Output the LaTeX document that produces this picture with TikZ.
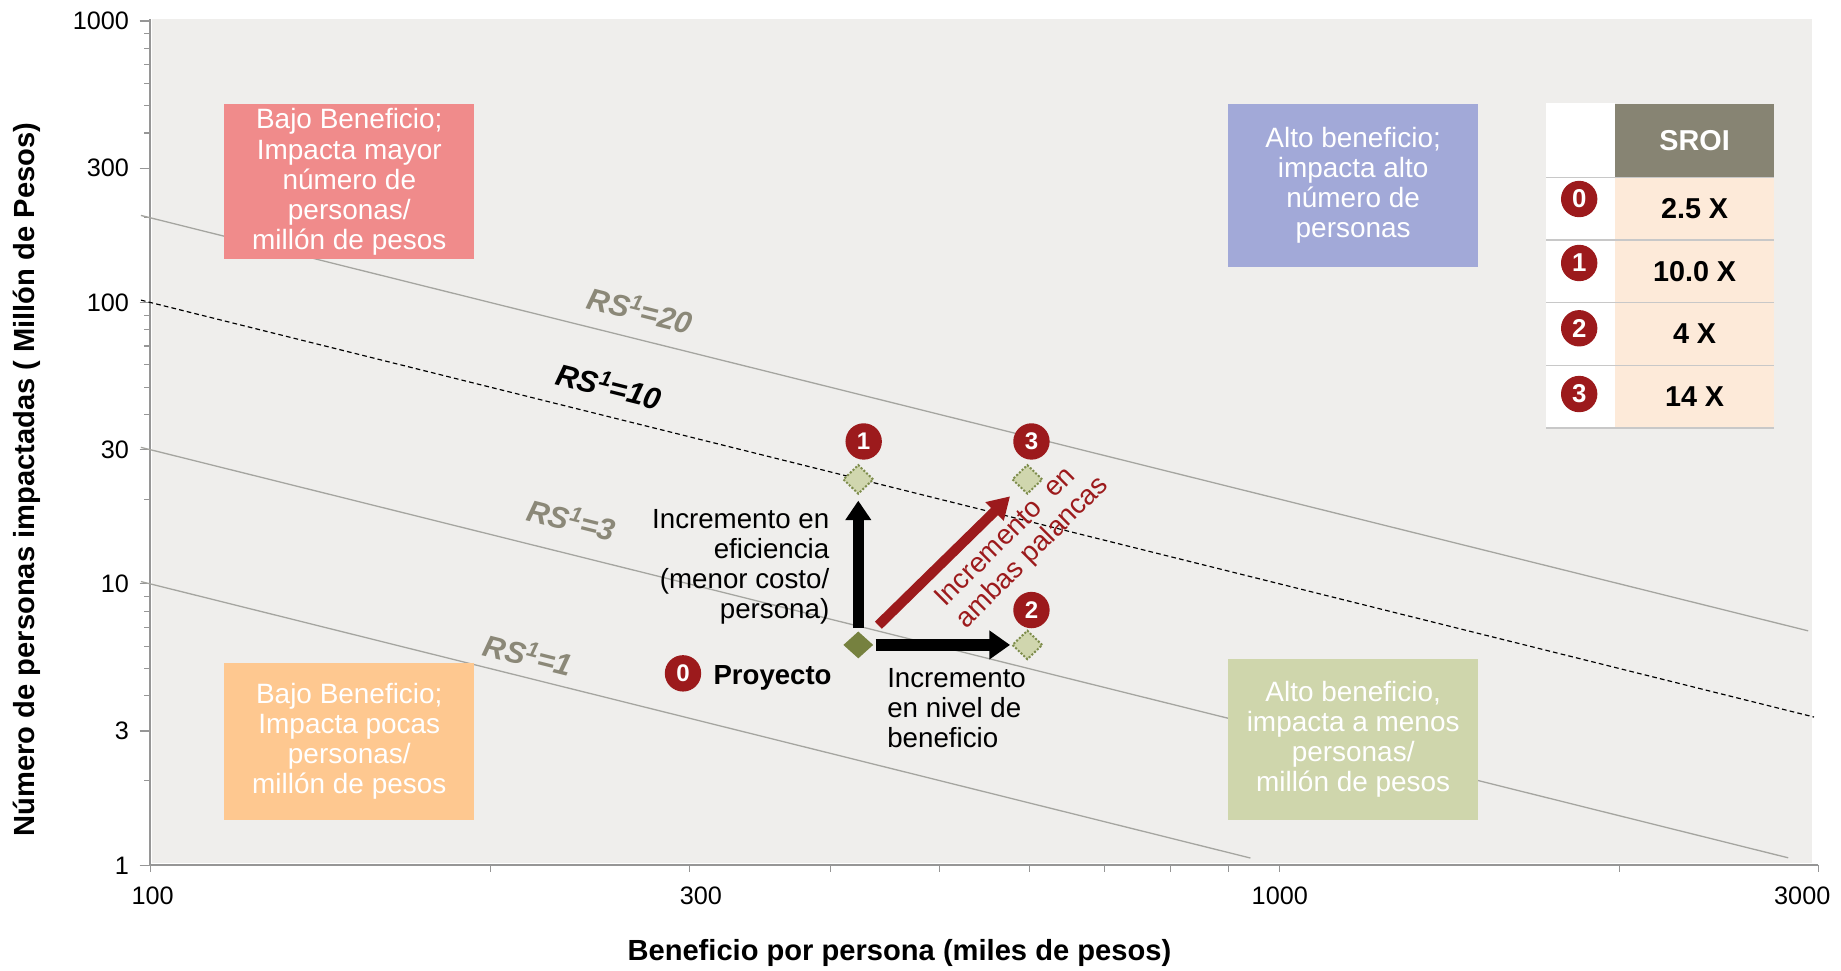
\documentclass[tikz,border=0pt]{standalone}
\usepackage{fontspec}
\setmainfont{Liberation Sans}
\usetikzlibrary{shapes.geometric,arrows.meta}
\definecolor{bggray}{RGB}{239,238,236}
\definecolor{axgray}{RGB}{150,150,150}
\definecolor{lngray}{RGB}{165,165,160}
\definecolor{rsgray}{RGB}{139,136,120}
\definecolor{dred}{RGB}{156,26,28}
\definecolor{olivept}{RGB}{118,129,63}
\definecolor{lgreen}{RGB}{208,214,174}
\definecolor{dotgreen}{RGB}{125,140,75}
\definecolor{pinkbox}{RGB}{240,139,139}
\definecolor{bluebox}{RGB}{162,169,216}
\definecolor{orangebox}{RGB}{254,200,144}
\definecolor{greenbox}{RGB}{207,214,172}
\definecolor{hdr}{RGB}{135,132,115}
\definecolor{peach}{RGB}{253,234,217}
\definecolor{sepgray}{RGB}{200,200,200}
\newcommand\fsz[2]{\fontsize{#1}{#2}\selectfont}
\begin{document}
\begin{tikzpicture}[x=1pt,y=-1pt,
  rsline/.style={lngray, line width=1.1},
  rsdash/.style={black, line width=1, dash pattern=on 4pt off 2.7pt},
  rslab/.style={font=\bfseries\itshape\fsz{26}{28}, rotate=-14, inner sep=0},
  qbox/.style={minimum width=213, inner sep=0, text=white, align=center, font=\fsz{23.8}{25.7}},
  numc/.style={circle, fill=dred, minimum size=31, inner sep=0, text=white, font=\bfseries\fsz{20.5}{21}},
  tnumc/.style={circle, fill=dred, minimum size=31, inner sep=0, text=white, font=\bfseries\fsz{22}{22}},
  ptdot/.style={diamond, fill=lgreen, draw=dotgreen, line width=1.7, dash pattern=on 1.7pt off 1.5pt, minimum width=26, minimum height=25, inner sep=0},
  tlab/.style={font=\fsz{21.5}{24}, inner sep=0},
  plab/.style={font=\fsz{23.6}{25.6}, inner sep=0},
  tval/.style={font=\bfseries\fsz{24.5}{26}, inner sep=0}
]
\useasboundingbox (0,0) rectangle (1568,826.2);
\fill[white] (0,0) rectangle (1568,826.2);
\fill[bggray] (129.5,16.5) rectangle (1543,735);
% y ticks
\foreach \d in {1,10,100} {
  \foreach \m in {2,...,9} {
    \pgfmathsetmacro\yy{737-239.7*log10(\m*\d)}
    \draw[axgray, line width=1] (123,\yy) -- (128,\yy);
  }
}
\foreach \v in {1,3,10,30,100,300,1000} {
  \pgfmathsetmacro\yy{737-239.7*log10(\v)}
  \draw[axgray, line width=1] (119,\yy) -- (128,\yy);
  \node[tlab, anchor=east] (yl\v) at (110,\yy) {\v};
}
% x ticks
\foreach \v in {100,200,300,400,500,600,700,800,900,1000,2000,3000} {
  \pgfmathsetmacro\xx{128+962*log10(\v/100)}
  \draw[axgray, line width=1] (\xx,737) -- (\xx,743);
}
\draw[axgray, line width=1.7] (128,16.5) -- (128,737) -- (1548,737);
\node[tlab] (xl100) at (130,763) {100};
\node[tlab] (xl300) at (597,763) {300};
\node[tlab] (xl1000) at (1090,763) {1000};
\node[tlab] (xl3000) at (1535,763) {3000};
% titles
\node[font=\bfseries\fsz{24.8}{26}, rotate=90, inner sep=0] (ytitle) at (22.7,408.5) {Número de personas impactadas ( Millón de Pesos)};
\node[font=\bfseries\fsz{24.8}{26}, inner sep=0] (xtitle) at (766,812) {Beneficio por persona (miles de pesos)};
% RS lines
\draw[rsline] (120,183.5) -- (1540,537.3);
\draw[rsdash] (120,255.6) -- (1545,610.7);
\draw[rsline] (120,381) -- (1523,730.6);
\draw[rsline] (120,495.3) -- (1065,730.8);
\node[rslab, text=rsgray] (rs20) at (545.5,263.5) {RS\textsuperscript{1}=20};
\node[rslab, text=black] (rs10) at (519,328) {RS\textsuperscript{1}=10};
\node[rslab, text=rsgray] (rs3) at (487,442) {RS\textsuperscript{1}=3};
\node[rslab, text=rsgray] (rs1) at (450,557) {RS\textsuperscript{1}=1};
% quadrant boxes
\node[qbox, fill=pinkbox, minimum height=132] (bq1) at (297.5,155) {Bajo Beneficio;\\Impacta mayor\\número de\\personas/\\millón de pesos};
\node[qbox, fill=bluebox, minimum height=138] (bq2) at (1152.5,158) {Alto beneficio;\\impacta alto\\número de\\personas};
\node[qbox, fill=orangebox, minimum height=133] (bq3) at (297.5,631.5) {Bajo Beneficio;\\Impacta pocas\\personas/\\millón de pesos};
\node[qbox, fill=greenbox, minimum height=137] (bq4) at (1152.5,629.5) {Alto beneficio,\\impacta a menos\\personas/\\millón de pesos};
% table
\fill[white] (1317,87.5) rectangle (1375.6,364.6);
\fill[hdr] (1375.6,88.6) rectangle (1511,151);
\fill[peach] (1375.6,151) rectangle (1511,364.6);
\foreach \yy in {151,204.4,257.8,311.2,364.6} {
  \draw[sepgray, line width=1.3] (1317,\yy) -- (1511,\yy);
}
\node[tval, text=white] (sroi) at (1443.3,119.8) {SROI};
\node[tval] (v0) at (1443.3,177.7) {2.5 X};
\node[tval] (v1) at (1443.3,231.1) {10.0 X};
\node[tval] (v2) at (1443.3,284.5) {4 X};
\node[tval] (v3) at (1443.3,337.9) {14 X};
\node[tnumc] (t0) at (1345,169.5) {0};
\node[tnumc] (t1) at (1345,224) {1};
\node[tnumc] (t2) at (1345,279.6) {2};
\node[tnumc] (t3) at (1345,335.6) {3};
% points
\node[diamond, fill=olivept, minimum width=25.5, minimum height=23, inner sep=0] (p0) at (731,549.3) {};
\node[ptdot] (p1) at (731,408.3) {};
\node[ptdot] (p2) at (875,549.3) {};
\node[ptdot] (p3) at (875,408.3) {};
% arrows
\draw[line width=9, -{Triangle[length=16.5pt,width=21pt]}, shorten <=14.3pt, shorten >=18.1pt] (p0.center) -- (p1.center);
\draw[line width=10.5, -{Triangle[length=17.7pt,width=23.6pt]}, shorten <=14.8pt, shorten >=14.7pt] (p0.center) -- (p2.center);
\draw[dred, line width=8.5, -{Triangle[length=18.5pt,width=21pt]}, shorten <=24pt, shorten >=20.6pt] (p0.center) -- (p3.center);
% numbered circles
\node[numc] (c0) at (581.7,573.5) {0};
\node[numc] (c1) at (735.6,376) {1};
\node[numc] (c2) at (878.5,519.6) {2};
\node[numc] (c3) at (878.5,376) {3};
% labels
\node[font=\bfseries\fsz{23.5}{26}, inner sep=0, anchor=west] (proy) at (607.5,577.6) {Proyecto};
\node[plab, align=right, anchor=east] (efic) at (706.5,482.6) {Incremento en\\eficiencia\\(menor costo/\\persona)};
\node[plab, align=left, anchor=west] (nivel) at (755.5,603.3) {Incremento\\en nivel de\\beneficio};
\node[plab, align=left, rotate=45, text=dred] (ambas) at (871,462) {Incremento\ \ en\\ambas palancas};
\end{tikzpicture}
\end{document}
